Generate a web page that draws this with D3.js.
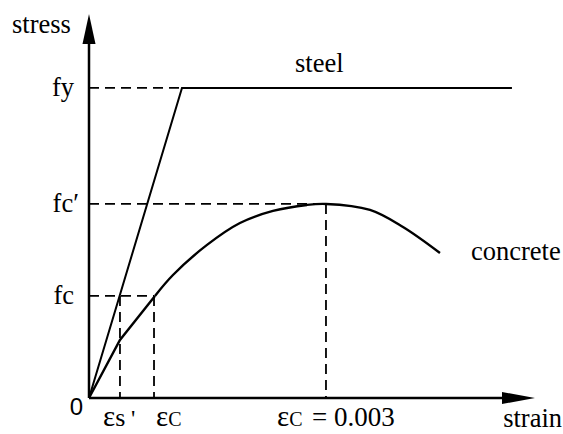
<!DOCTYPE html>
<html>
<head>
<meta charset="utf-8">
<script src="https://cdn.jsdelivr.net/npm/d3@7"></script>
<style>
  html, body { margin: 0; padding: 0; background: #fff; }
  svg { display: block; }
</style>
</head>
<body>
<svg id="chart" width="563" height="434"></svg>
<script>
// strain in per-mille (x10^-3), stress relative to fc'
const strainMax = 5.646;
const stressMax = 1.979;

const fy = 1.598;
const fcPrime = 1.0;
const fc = 0.526;
const epsS = 0.392;     // steel strain at fc
const epsC = 0.823;     // concrete strain at fc
const epsCu = 3.0;      // strain at peak (0.003)

const steelStrain = [0, 1.177, 5.354];
const steelStress = [0, fy, fy];

// first part of concrete curve (straight pieces)
const concStrainA = [0, 0.392, 0.835];
const concStressA = [0, 0.299, 0.526];
// curved part
const concStrainB = [0.835, 1.063, 1.494, 1.911, 2.329, 2.759, 3.0, 3.557, 3.975, 4.443];
const concStressB = [0.526, 0.634, 0.789, 0.902, 0.964, 0.995, 1.0, 0.969, 0.881, 0.747];

const yLabels = [
  { text: "fy", v: fy },
  { text: "fc\u2032", v: fcPrime },
  { text: "fc", v: fc }
];

const SERIF = "'Liberation Serif', serif";

const svg = d3.select("#chart");
const x = d3.scaleLinear().domain([0, strainMax]).range([89, 535]);
const y = d3.scaleLinear().domain([0, stressMax]).range([398, 14]);

const zip = (a, b) => a.map((d, i) => [d, b[i]]);
const line = d3.line().x(d => x(d[0])).y(d => y(d[1]));
const smooth = d3.line().x(d => x(d[0])).y(d => y(d[1])).curve(d3.curveCatmullRom.alpha(0.5));

// dashed guides
const dash = svg.append("g")
  .attr("stroke", "#000").attr("stroke-width", 1.8)
  .attr("stroke-dasharray", "10,6").attr("fill", "none");
const guides = [
  [[0, fy], [steelStrain[1], fy]],
  [[0, fcPrime], [epsCu, fcPrime]],
  [[epsCu, fcPrime], [epsCu, 0]],
  [[0, fc], [epsC, fc]],
  [[epsS, fc], [epsS, 0]],
  [[epsC, fc], [epsC, 0]]
];
guides.forEach(g => dash.append("path").attr("d", line(g)));

// steel
svg.append("path")
  .attr("d", line(zip(steelStrain, steelStress)))
  .attr("fill", "none").attr("stroke", "#000").attr("stroke-width", 2);

// concrete
svg.append("path")
  .attr("d", line(zip(concStrainA, concStressA)))
  .attr("fill", "none").attr("stroke", "#000").attr("stroke-width", 2.4);
svg.append("path")
  .attr("d", smooth(zip(concStrainB, concStressB)))
  .attr("fill", "none").attr("stroke", "#000").attr("stroke-width", 2.4);

// axes
const ax = svg.append("g").attr("stroke", "#000").attr("stroke-width", 2.5);
ax.append("line").attr("x1", x(0)).attr("y1", y(0)).attr("x2", x(0)).attr("y2", y(stressMax) + 20);
ax.append("line").attr("x1", x(0)).attr("y1", y(0)).attr("x2", x(strainMax) - 20).attr("y2", y(0));
svg.append("path")
  .attr("d", `M${x(0)},${y(stressMax)} L${x(0) - 6.5},${y(stressMax) + 30} L${x(0) + 6.5},${y(stressMax) + 30} Z`)
  .attr("fill", "#000");
svg.append("path")
  .attr("d", `M${x(strainMax)},${y(0)} L${x(strainMax) - 33},${y(0) - 6} L${x(strainMax) - 33},${y(0) + 6} Z`)
  .attr("fill", "#000");

// labels
function label(xp, yp, txt, size, anchor, family) {
  return svg.append("text").attr("x", xp).attr("y", yp)
    .attr("font-family", family || SERIF).attr("font-size", size)
    .attr("text-anchor", anchor || "start").attr("fill", "#000").text(txt);
}
label(12, 33, "stress", 26.5);
label(562, 427, "strain", 26.5, "end");
label(295, 72, "steel", 26.5);
label(471, 260, "concrete", 26.5);
label(x(0) - 6, 415, "0", 24, "end", "'Liberation Sans', sans-serif");

yLabels.forEach(d => {
  label(d.text.length > 2 ? 79 : 74, y(d.v) + 8, d.text, 26.5, "end");
});

function epsLabel(xPos, sub, subSize) {
  const t = svg.append("text").attr("x", xPos).attr("y", 426)
    .attr("font-family", SERIF).attr("font-size", 29).attr("fill", "#000");
  t.append("tspan").text("\u03b5");
  t.append("tspan").attr("font-size", subSize).text(sub);
  return t;
}
epsLabel(x(epsS) - 17, "s", 26)
  .append("tspan").attr("x", x(epsS) + 11).attr("font-size", 24).text("'");
epsLabel(x(epsC) + 2, "C", 20);
epsLabel(x(epsCu) - 49, "C", 20)
  .append("tspan").attr("x", x(epsCu) - 14).attr("font-size", 27).text("= 0.003");
</script>
</body>
</html>
